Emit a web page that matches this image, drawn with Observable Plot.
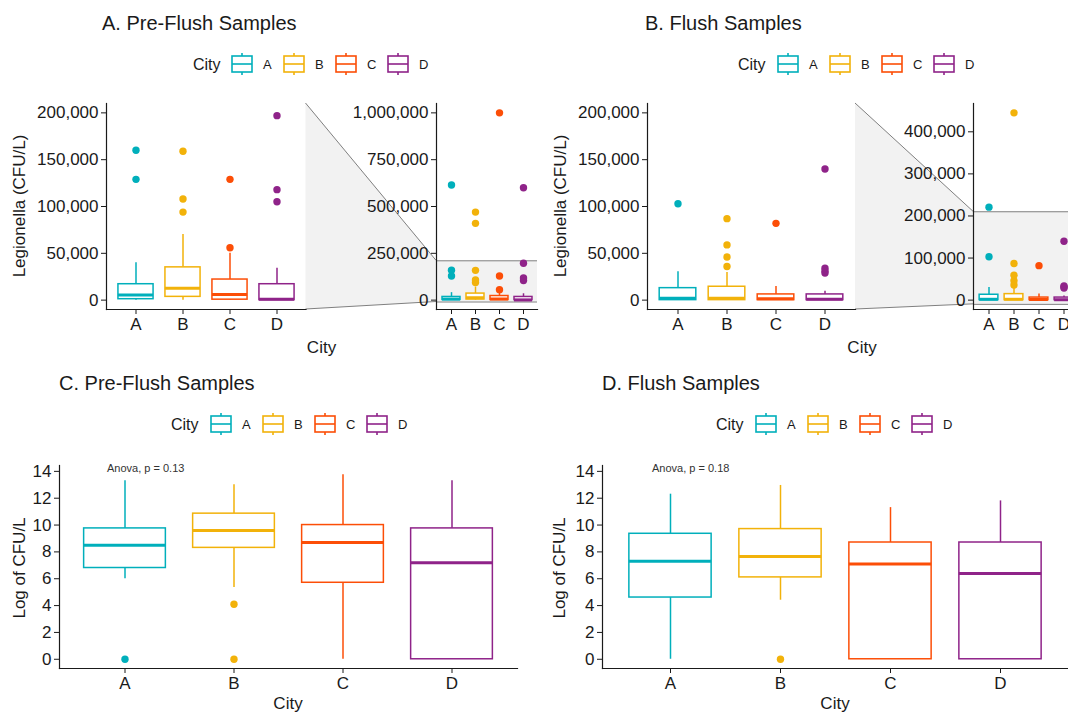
<!DOCTYPE html>
<html><head><meta charset="utf-8">
<script src="https://cdn.jsdelivr.net/npm/d3@7"></script>
<script src="https://cdn.jsdelivr.net/npm/@observablehq/plot@0.6"></script>
<style>
body{margin:0;background:#fff;}
#fig{position:relative;width:1068px;height:713px;overflow:hidden;background:#fff;font-family:"Liberation Sans",Arial,Helvetica,sans-serif;color:#1a1a1a;}
#fig svg{position:absolute;}
</style></head>
<body><div id="fig"></div>
<script>
// ---------------- data ----------------
const cities = ["A", "B", "C", "D"];
const cityColors = ["#00AFBB", "#F2B20A", "#FC4E07", "#8F2389"];

// Panel A / C : Pre-flush, Legionella CFU/L
const preQ1 = [1000, 3500, 500, 0];
const preMedian = [5500, 12800, 6000, 1000];
const preQ3 = [17000, 35000, 22000, 17000];
const preLow = [0, 0, 0, 0];
const preHigh = [40000, 70000, 50000, 34000];
const preOutliers = [[129000, 160000, 615000], [94000, 108000, 159000, 410000, 470000], [56000, 129000, 1000000], [105000, 118000, 197000, 600000]];

// Panel B / D : Flush, Legionella CFU/L
const flQ1 = [0, 0, 0, 0];
const flMedian = [2000, 2000, 1500, 1000];
const flQ3 = [12800, 14300, 6100, 6100];
const flLow = [0, 0, 0, 0];
const flHigh = [30300, 29600, 14600, 9600];
const flOutliers = [[103000, 221000], [36000, 46000, 59000, 87000, 445000], [82000], [29000, 31000, 34000, 140000]];

// Log of CFU/L
const preLogQ1 = [6.8, 8.3, 5.7, 0];
const preLogMedian = [8.5, 9.6, 8.7, 7.2];
const preLogQ3 = [9.75, 10.85, 10.0, 9.75];
const preLogLow = [6.0, 5.35, 0, 0];
const preLogHigh = [13.3, 13.0, 13.75, 13.3];
const preLogOutliers = [[0], [0, 4.1], [], []];

const flLogQ1 = [4.6, 6.1, 0, 0];
const flLogMedian = [7.3, 7.65, 7.1, 6.4];
const flLogQ3 = [9.35, 9.7, 8.7, 8.7];
const flLogLow = [0, 4.4, 0, 0];
const flLogHigh = [12.3, 12.95, 11.3, 11.8];
const flLogOutliers = [[], [0], [], []];

const zoomWindow = [0, 200000];
const mainTicks = [0, 50000, 100000, 150000, 200000];
const preInsetTicks = [0, 250000, 500000, 750000, 1000000];
const flInsetTicks = [0, 100000, 200000, 300000, 400000];
const logTicks = [0, 2, 4, 6, 8, 10, 12, 14];
const logLimits = [0, 13.75];
const anovaP = ["0.13", "0.18"];
const titles = ["A. Pre-Flush Samples", "B. Flush Samples", "C. Pre-Flush Samples", "D. Flush Samples"];

// ---------------- helpers ----------------
const rowsOf = (q1, med, q3, lo, hi) => cities.map((c, i) => ({city: c, q1: q1[i], median: med[i], q3: q3[i], lo: lo[i], hi: hi[i]}));
const outsOf = (o) => cities.flatMap((c, i) => o[i].map(v => ({city: c, value: v})));
const expand = ([a, b]) => [a - 0.05 * (b - a), b + 0.05 * (b - a)];

const preRows = rowsOf(preQ1, preMedian, preQ3, preLow, preHigh), preOuts = outsOf(preOutliers);
const flRows = rowsOf(flQ1, flMedian, flQ3, flLow, flHigh), flOuts = outsOf(flOutliers);
const preLogRows = rowsOf(preLogQ1, preLogMedian, preLogQ3, preLogLow, preLogHigh), preLogOuts = outsOf(preLogOutliers);
const flLogRows = rowsOf(flLogQ1, flLogMedian, flLogQ3, flLogLow, flLogHigh), flLogOuts = outsOf(flLogOutliers);

const mainDomain = expand(zoomWindow);
const preInsetDomain = expand([0, d3.max(preOuts, d => d.value)]);
const flInsetDomain = expand([0, d3.max(flOuts, d => d.value)]);
const logDomain = expand(logLimits);

// layout: plot box + panel rectangle (absolute pixels)
const LAY = {
  A:  {left: 0,   top: 90,  width: 312, height: 250, x0: 106, x1: 305.5, y0: 103, y1: 309},
  Ai: {left: 340, top: 90,  width: 210, height: 250, x0: 436, x1: 537,   y0: 103, y1: 309},
  B:  {left: 540, top: 90,  width: 320, height: 250, x0: 647, x1: 855,   y0: 103, y1: 309},
  Bi: {left: 880, top: 90,  width: 210, height: 250, x0: 973, x1: 1078,  y0: 103, y1: 309},
  C:  {left: 0,   top: 450, width: 540, height: 250, x0: 59,  x1: 517,   y0: 465, y1: 668},
  D:  {left: 540, top: 450, width: 540, height: 250, x0: 602, x1: 1068,  y0: 465, y1: 668}
};

const fig = document.getElementById("fig");
const bg = d3.select(fig).append("svg").attr("width", 1068).attr("height", 713).style("left", 0).style("top", 0);

function boxPanel({rows, outs, domain, ticks, lay, zoom}) {
  const step = (lay.x1 - lay.x0) / 4.2;
  const ins = step * 0.125;
  const marks = [];
  if (zoom) {
    marks.push(Plot.rect([zoom], {y1: d => d[0], y2: d => d[1], fill: "#f2f2f2"}));
    marks.push(Plot.ruleY(zoom, {stroke: "#808080", strokeWidth: 1}));
  }
  marks.push(
    Plot.ruleX(rows, {x: "city", y1: "q3", y2: "hi", stroke: "city", strokeWidth: 1.5}),
    Plot.ruleX(rows, {x: "city", y1: "lo", y2: "q1", stroke: "city", strokeWidth: 1.5}),
    Plot.barY(rows, {x: "city", y1: "q1", y2: "q3", fill: "white", stroke: "city", strokeWidth: 1.5, insetLeft: ins, insetRight: ins}),
    Plot.tickY(rows, {x: "city", y: "median", stroke: "city", strokeWidth: 3, insetLeft: ins, insetRight: ins}),
    Plot.dot(outs, {x: "city", y: "value", fill: "city", r: 3.7, clip: true}),
    Plot.frame({anchor: "left", stroke: "#1a1a1a", strokeWidth: 1.2}),
    Plot.frame({anchor: "bottom", stroke: "#1a1a1a", strokeWidth: 1.2}),
    Plot.axisY({ticks, tickFormat: d3.format(","), tickSize: 5, tickPadding: 3, label: null}),
    Plot.axisX({tickSize: 5, tickPadding: 3, label: null})
  );
  const p = Plot.plot({
    width: lay.width, height: lay.height,
    marginLeft: lay.x0 - lay.left, marginRight: lay.left + lay.width - lay.x1,
    marginTop: lay.y0 - lay.top, marginBottom: lay.top + lay.height - lay.y1,
    x: {type: "band", domain: cities, paddingInner: 0, paddingOuter: 0.1},
    y: {domain},
    color: {domain: cities, range: cityColors},
    style: {background: "transparent", overflow: "visible", fontSize: "17px", fontFamily: "'Liberation Sans', Arial, Helvetica, sans-serif", color: "#1a1a1a"},
    marks
  });
  p.style.position = "absolute";
  p.style.left = lay.left + "px";
  p.style.top = lay.top + "px";
  p.style.maxWidth = "none";
  fig.appendChild(p);
  return p;
}

boxPanel({rows: preRows, outs: preOuts, domain: mainDomain, ticks: mainTicks, lay: LAY.A});
boxPanel({rows: preRows, outs: preOuts, domain: preInsetDomain, ticks: preInsetTicks, lay: LAY.Ai, zoom: mainDomain});
boxPanel({rows: flRows, outs: flOuts, domain: mainDomain, ticks: mainTicks, lay: LAY.B});
boxPanel({rows: flRows, outs: flOuts, domain: flInsetDomain, ticks: flInsetTicks, lay: LAY.Bi, zoom: mainDomain});
boxPanel({rows: preLogRows, outs: preLogOuts, domain: logDomain, ticks: logTicks, lay: LAY.C});
boxPanel({rows: flLogRows, outs: flLogOuts, domain: logDomain, ticks: logTicks, lay: LAY.D});

// zoom connectors (behind plots)
function connector(main, inset, insetDomain) {
  const yi = d3.scaleLinear(insetDomain, [inset.y1, inset.y0]);
  const pts = [[main.x1, main.y0], [inset.x0, yi(mainDomain[1])], [inset.x0, yi(mainDomain[0])], [main.x1, main.y1]];
  bg.append("polygon").attr("points", pts.map(p => p.join(",")).join(" ")).attr("fill", "#f2f2f2");
  bg.append("line").attr("x1", pts[0][0]).attr("y1", pts[0][1]).attr("x2", pts[1][0]).attr("y2", pts[1][1]).attr("stroke", "#808080");
  bg.append("line").attr("x1", pts[3][0]).attr("y1", pts[3][1]).attr("x2", pts[2][0]).attr("y2", pts[2][1]).attr("stroke", "#808080");
}
connector(LAY.A, LAY.Ai, preInsetDomain);
connector(LAY.B, LAY.Bi, flInsetDomain);

// foreground texts & legends
const fg = d3.select(fig).append("svg").attr("width", 1068).attr("height", 713).style("left", 0).style("top", 0)
  .style("font-family", "'Liberation Sans', Arial, Helvetica, sans-serif").attr("fill", "#1a1a1a");

[[102, 30], [645, 30], [59, 390], [602, 390]].forEach(([x, y], i) =>
  fg.append("text").attr("x", x).attr("y", y).attr("font-size", 20).text(titles[i]));

[[321.5, 353], [862, 353], [288, 709], [835, 709]].forEach(([x, y]) =>
  fg.append("text").attr("x", x).attr("y", y).attr("font-size", 17).attr("text-anchor", "middle").text("City"));

[[25, 206, "Legionella (CFU/L)"], [566, 206, "Legionella (CFU/L)"], [25, 568, "Log of CFU/L"], [565, 568, "Log of CFU/L"]].forEach(([x, y, t]) =>
  fg.append("text").attr("transform", `translate(${x},${y}) rotate(-90)`).attr("font-size", 17).attr("text-anchor", "middle").text(t));

[[107, 471.5], [652, 471.5]].forEach(([x, y], i) =>
  fg.append("text").attr("x", x).attr("y", y).attr("font-size", 11).attr("fill", "#333").text(`Anova, p = ${anovaP[i]}`));

function legend(cityX, key0, cy) {
  const g = fg.append("g");
  g.append("text").attr("x", cityX).attr("y", cy + 6).attr("font-size", 16).text("City");
  cities.forEach((c, i) => {
    const kx = key0 + i * 52, col = cityColors[i];
    const k = g.append("g").attr("stroke", col).attr("stroke-width", 1.6).attr("fill", "none");
    k.append("line").attr("x1", kx + 10).attr("x2", kx + 10).attr("y1", cy - 11).attr("y2", cy - 8);
    k.append("line").attr("x1", kx + 10).attr("x2", kx + 10).attr("y1", cy + 8).attr("y2", cy + 11);
    k.append("rect").attr("x", kx).attr("y", cy - 8).attr("width", 20).attr("height", 16).attr("fill", "white");
    k.append("line").attr("x1", kx).attr("x2", kx + 20).attr("y1", cy).attr("y2", cy);
    g.append("text").attr("x", kx + 31).attr("y", cy + 5).attr("font-size", 13).text(c);
  });
}
legend(193, 232, 64);
legend(738, 778, 64);
legend(171, 211, 424);
legend(716, 756, 424);
</script></body></html>
